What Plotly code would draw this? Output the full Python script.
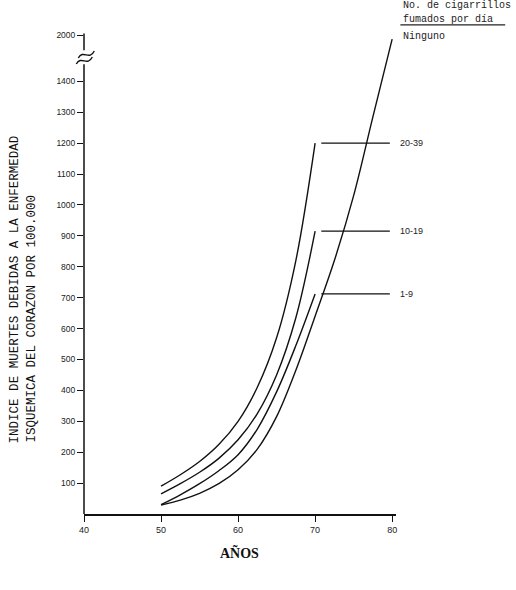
import plotly.graph_objects as go

# ---- data ----
ages_smoker = [50, 52.5, 55, 57.5, 60, 62.5, 65, 67.5, 70]
ages_none = [50, 52.5, 55, 57.5, 60, 62.5, 65, 67.5, 70, 72.5, 75, 77.5, 80]

rate_20_39 = [90, 127, 170, 225, 300, 410, 570, 820, 1200]
rate_10_19 = [65, 98, 135, 180, 240, 325, 450, 635, 915]
rate_1_9 = [30, 62, 98, 140, 192, 275, 395, 545, 712]
rate_ninguno = [29, 45, 67, 98, 143, 210, 315, 465, 640, 820, 1030, 1285, 1950]

series_labels = ["20-39", "10-19", "1-9"]
y_tick_values = [100, 200, 300, 400, 500, 600, 700, 800, 900, 1000,
                 1100, 1200, 1300, 1400, 2000]
x_tick_values = [40, 50, 60, 70, 80]

BREAK_AT = 1400
BREAK_SCALE = 0.248  # compression above the axis break


def to_axis(v):
    return v if v <= BREAK_AT else BREAK_AT + (v - BREAK_AT) * BREAK_SCALE


def px2paper(px, py):
    return (px - 83.7) / 311.9, (514 - py) / 479


fig = go.Figure()
line_style = dict(color="#111111", width=1.4, shape="spline", smoothing=1.0)
for xs, ys in [(ages_smoker, rate_20_39), (ages_smoker, rate_10_19),
               (ages_smoker, rate_1_9), (ages_none, rate_ninguno)]:
    fig.add_trace(go.Scatter(x=xs, y=[to_axis(v) for v in ys], mode="lines",
                             line=line_style, showlegend=False,
                             hoverinfo="skip"))

# leader lines + labels for the smoker series
label_x = px2paper(398, 0)[0]
for lab, ys in zip(series_labels, [rate_20_39, rate_10_19, rate_1_9]):
    yv = to_axis(ys[-1])
    fig.add_shape(type="line", x0=ages_smoker[-1] + 0.8, x1=79.7, y0=yv, y1=yv,
                  xref="x", yref="y", line=dict(color="#111111", width=1.3))
    fig.add_annotation(x=label_x, y=yv, xref="paper", yref="y", text=lab,
                       showarrow=False, xanchor="left", yanchor="middle",
                       font=dict(family="Liberation Sans", size=9, color="#222"))

# header (legend-like) top-right
mono = "Liberation Mono"
fig.add_annotation(x=1.015, y=1.062, xref="paper", yref="paper",
                   text="No. de cigarrillos", showarrow=False,
                   xanchor="left", yanchor="middle",
                   font=dict(family=mono, size=10, color="#222"))
fig.add_annotation(x=1.015, y=1.033, xref="paper", yref="paper",
                   text="fumados por día", showarrow=False,
                   xanchor="left", yanchor="middle",
                   font=dict(family=mono, size=10, color="#222"))
fig.add_shape(type="line", xref="paper", yref="paper",
              x0=1.014, x1=1.35, y0=1.021, y1=1.021,
              line=dict(color="#222", width=1.2))
fig.add_annotation(x=1.015, y=0.997, xref="paper", yref="paper",
                   text="Ninguno", showarrow=False,
                   xanchor="left", yanchor="middle",
                   font=dict(family=mono, size=10, color="#222"))

# y-axis title (two lines, rotated, bottom-aligned)
fig.add_annotation(x=-0.22, y=0.144, xref="paper", yref="paper",
                   text="INDICE DE MUERTES DEBIDAS A LA ENFERMEDAD",
                   textangle=-90, showarrow=False,
                   xanchor="center", yanchor="bottom",
                   font=dict(family=mono, size=12.5, color="#111"))
fig.add_annotation(x=-0.165, y=0.144, xref="paper", yref="paper",
                   text="ISQUEMICA DEL CORAZON POR 100.000",
                   textangle=-90, showarrow=False,
                   xanchor="center", yanchor="bottom",
                   font=dict(family=mono, size=12.5, color="#111"))

# x-axis title
fig.add_annotation(x=0.498, y=-0.081, xref="paper", yref="paper",
                   text="<b>AÑOS</b>", showarrow=False,
                   xanchor="center", yanchor="middle",
                   font=dict(family="Liberation Serif", size=14, color="#111"))

# y axis line drawn in two pieces with a break
fig.add_shape(type="line", xref="paper", yref="paper", x0=0, x1=0,
              y0=0, y1=0.939, line=dict(color="#111", width=1.5))
fig.add_shape(type="line", xref="paper", yref="paper", x0=0, x1=0,
              y0=0.968, y1=1.003, line=dict(color="#111", width=1.5))


def wave(p0, c1, c2, p1):
    a = px2paper(*p0); b = px2paper(*c1); c = px2paper(*c2); d = px2paper(*p1)
    return f"M {a[0]},{a[1]} C {b[0]},{b[1]} {c[0]},{c[1]} {d[0]},{d[1]}"


for path in [wave((76, 64), (81, 55), (87, 67), (92, 57)),
             wave((78, 58), (83, 49), (89, 61), (94, 51))]:
    fig.add_shape(type="path", path=path, xref="paper", yref="paper",
                  line=dict(color="#111", width=1.4))

fig.update_layout(
    width=516, height=590,
    margin=dict(l=84, r=120, t=35, b=76),
    paper_bgcolor="white", plot_bgcolor="white",
    xaxis=dict(range=[40, 80.5], tickvals=x_tick_values,
               ticktext=[str(v) for v in x_tick_values],
               showline=True, linecolor="#111", linewidth=1.5,
               ticks="outside", ticklen=6, tickcolor="#111", tickwidth=1.3,
               showgrid=False, zeroline=False,
               tickfont=dict(family="Liberation Sans", size=9, color="#222")),
    yaxis=dict(range=[0, to_axis(2000) + 1], tickvals=[to_axis(v) for v in y_tick_values],
               ticktext=[str(v) for v in y_tick_values],
               showline=False,
               ticks="outside", ticklen=6, tickcolor="#111", tickwidth=1.3,
               showgrid=False, zeroline=False,
               tickfont=dict(family="Liberation Sans", size=8.5, color="#222")),
)

fig.write_html("out.html")
